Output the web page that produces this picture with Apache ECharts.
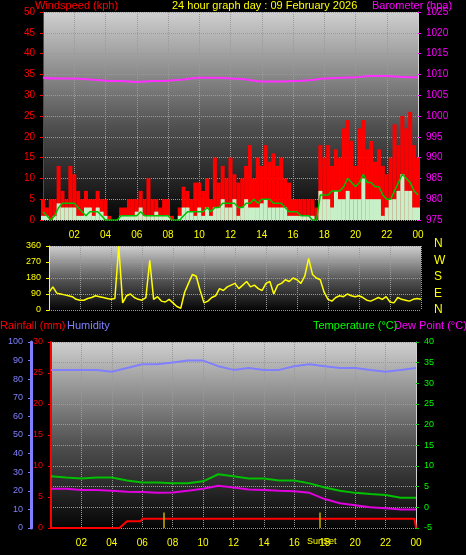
<!DOCTYPE html><html><head><meta charset="utf-8">
<script src="https://cdn.jsdelivr.net/npm/echarts@6/dist/echarts.min.js"></script>
<style>html,body{margin:0;background:#000}#c{width:466px;height:555px}</style></head><body><div id="c"></div>
<script>
const hourTicks=['02','04','06','08','10','12','14','16','18','20','22','00'];
const gust=[5,3,5,5,13,7,5,13,11,7,5,7,5,5,7,5,5,1,0,0,3,3,5,5,5,7,5,10,5,5,3,5,5,1,0,3,8,7,5,9,9,7,10,5,15,9,13,10,15,11,9,10,13,18,10,15,13,18,14,16,13,15,10,9,5,5,5,5,5,5,3,18,15,18,13,17,15,22,24,19,13,22,24,17,19,14,17,13,11,15,23,18,25,22,26,18,15];
const avgWind=[1,1,0,1,4,3,3,3,3,1,1,3,3,1,3,2,1,0,0,0,1,1,1,1,2,3,1,1,1,2,1,1,1,0,0,1,3,3,2,1,3,1,3,1,3,3,5,3,3,5,1,3,5,3,3,3,4,5,3,3,3,3,3,1,1,1,1,1,1,1,0,7,5,5,3,7,5,5,7,5,5,5,10,5,5,5,5,1,3,5,5,7,11,7,7,3,3];
const avg10=[2,1,0,1,3,4,4,4,4,3,2,1,2,2,2,1,0,0,0,0,1,1,1,1,1,2,1,1,1,1,1,1,1,0,0,0,1,2,2,2,2,2,3,2,3,3,4,4,4,4,3,3,4,4,5,4,5,5,5,4,4,4,3,2,2,2,1,1,1,0,0,6,6,6,7,7,7,8,10,9,8,9,11,9,9,8,8,6,5,5,7,9,11,10,9,7,6];
const baro=[1009.2,1009,1009,1008.8,1008.5,1008.4,1008.2,1008.4,1008.5,1008.8,1009.2,1009.2,1009,1008.8,1008.3,1008.3,1008.4,1008.6,1009,1009.2,1009.3,1009.6,1009.6,1009.4,1009.3];
const windDir=[100,130,95,90,85,80,75,60,55,55,65,70,80,75,70,65,60,65,360,40,80,90,70,60,55,70,280,60,75,50,45,60,40,20,10,100,150,200,190,110,40,50,70,80,120,110,130,140,150,120,140,160,130,140,120,110,150,160,90,140,150,170,160,180,170,150,190,290,200,180,170,100,60,50,70,80,75,90,80,75,80,70,55,50,60,70,60,75,45,40,70,60,55,50,60,65,60];
const humidity=[85,85,85,85,84,86,88,88,89,90,90,87,85,86,85,85,87,88,87,86,86,85,84,85,86];
const temperature=[7.5,7.2,7,7.2,7.2,6.5,6,6,5.8,5.8,6.3,8,7.5,7,7,6.5,6.5,5.8,4.8,4,3.5,3.2,3,2.3,2.3];
const dewPoint=[4.5,4.5,4.2,4.2,4.0,3.8,3.7,3.5,3.6,4,4.5,5.2,4.8,4.3,4.2,4,3.9,3.5,2,1,0.5,0,-0.2,-0.5,-0.5];
const rainHours=[0,4.5,5,5.9,6,23.9,24];
const rainValues=[0,0,1.1,1.1,1.5,1.5,0];
const sunTimes=[7.4,17.7];

const q=a=>a.map((v,i)=>[i*0.25,v]);
const h=a=>a.map((v,i)=>[i,v]);
const bg={type:'linear',x:0,y:0,x2:0,y2:1,colorStops:[{offset:0,color:'#cfcfcf'},{offset:0.55,color:'#505050'},{offset:1,color:'#050505'}]};
const split={show:true,lineStyle:{color:'#9a9a9a',type:'dotted',width:1}};
const font={fontFamily:'Liberation Sans, Arial',fontSize:10};
function xAx(i,show){return {type:'value',gridIndex:i,min:0,max:24,interval:2,
 axisLine:{show:false},axisTick:{show:false},splitLine:split,
 axisLabel:{show:show,color:'#ffff00',...font,margin:10,formatter:v=>v===0?'':hourTicks[v/2-1]}};}
function yAx(i,o){return Object.assign({type:'value',gridIndex:i,splitLine:{show:false},
 axisTick:{show:true,length:3,inside:false},minorTick:{show:false}},o);}
const opt={backgroundColor:'#000',animation:false,
grid:[
 {left:43,right:48,top:12,height:208,show:true,backgroundColor:bg,borderWidth:0},
 {left:49,right:45,top:246,height:64,show:true,backgroundColor:bg,borderWidth:0},
 {left:51,right:50,top:342,height:186,show:true,backgroundColor:bg,borderWidth:0}],
xAxis:[xAx(0,true),xAx(1,false),xAx(2,true)],
yAxis:[
 yAx(0,{min:0,max:50,interval:5,axisLine:{show:true,lineStyle:{color:'#ff0000'}},axisLabel:{color:'#ff0000',...font},splitLine:split}),
 yAx(0,{min:975,max:1025,interval:5,position:'right',axisLine:{show:true,lineStyle:{color:'#d0d0d0'}},axisTick:{lineStyle:{color:'#ff00ff'},length:3},axisLabel:{color:'#ff00ff',...font,formatter:v=>String(v)}}),
 yAx(1,{min:0,max:360,interval:90,axisLine:{show:true,lineStyle:{color:'#ffff00'}},axisLabel:{color:'#ffff00',...font,fontSize:9},splitLine:split}),
 yAx(2,{min:0,max:30,interval:5,position:'left',axisLine:{show:true,lineStyle:{color:'#ff0000',width:2}},axisLabel:{color:'#ff0000',...font,fontSize:9}}),
 yAx(2,{min:0,max:100,interval:10,position:'left',offset:20,axisLine:{show:true,lineStyle:{color:'#8080ff',width:3}},axisLabel:{color:'#8080ff',...font,fontSize:9}}),
 yAx(2,{min:-5,max:40,interval:5,position:'right',axisLine:{show:true,lineStyle:{color:'#d0d0d0'}},axisTick:{lineStyle:{color:'#00c000'},length:3},axisLabel:{color:'#00ff00',...font,fontSize:9},splitLine:split})],
series:[
 {type:'bar',xAxisIndex:0,yAxisIndex:0,data:q(gust),barWidth:4,barGap:'-100%',itemStyle:{color:'#ff0000'}},
 {type:'bar',xAxisIndex:0,yAxisIndex:0,data:q(avgWind),barWidth:4,itemStyle:{color:'#c8f0c8'}},
 {type:'line',xAxisIndex:0,yAxisIndex:0,data:q(avg10),showSymbol:false,lineStyle:{color:'#00c000',width:1.5}},
 {type:'line',xAxisIndex:0,yAxisIndex:1,data:h(baro),showSymbol:false,smooth:true,lineStyle:{color:'#ff30ff',width:2}},
 {type:'line',xAxisIndex:1,yAxisIndex:2,data:q(windDir),showSymbol:false,lineStyle:{color:'#ffff00',width:1.5}},
 {type:'line',xAxisIndex:2,yAxisIndex:4,data:h(humidity),showSymbol:false,lineStyle:{color:'#8080ff',width:2}},
 {type:'line',xAxisIndex:2,yAxisIndex:5,data:h(temperature),showSymbol:false,lineStyle:{color:'#00c000',width:2}},
 {type:'line',xAxisIndex:2,yAxisIndex:5,data:h(dewPoint),showSymbol:false,lineStyle:{color:'#e000e0',width:2}},
 {type:'line',xAxisIndex:2,yAxisIndex:3,data:rainHours.map((x,i)=>[x,rainValues[i]]),showSymbol:false,lineStyle:{color:'#ff0000',width:2},
  markLine:{symbol:'none',silent:true,label:{show:false},lineStyle:{color:'#c0b000',type:'solid',width:1.5},data:sunTimes.map(t=>[{coord:[t,0]},{coord:[t,2.5]}])}}
],
graphic:[
 {type:'text',left:35,top:0,style:{text:'Windspeed (kph)',fill:'#ff0000',font:'11px Liberation Sans'}},
 {type:'text',left:172,top:0,style:{text:'24 hour graph day : 09 February 2026',fill:'#ffff00',font:'11px Liberation Sans'}},
 {type:'text',left:372,top:0,style:{text:'Barometer (hpa)',fill:'#ff00ff',font:'11px Liberation Sans'}},
 {type:'text',left:0,top:320,style:{text:'Rainfall (mm)',fill:'#ff0000',font:'11px Liberation Sans'}},
 {type:'text',left:67,top:320,style:{text:'Humidity',fill:'#8080ff',font:'11px Liberation Sans'}},
 {type:'text',left:313,top:320,style:{text:'Temperature (°C)',fill:'#00ff00',font:'11px Liberation Sans'}},
 {type:'text',left:394,top:320,style:{text:'Dew Point (°C)',fill:'#ff00ff',font:'11px Liberation Sans'}},
 {type:'text',left:307,top:537,style:{text:'SunSet',fill:'#ffff00',font:'9px Liberation Sans'}},
 ...['N','W','S','E','N'].map((s,i)=>({type:'text',left:434,top:238+i*16.5,style:{text:s,fill:'#ffff00',font:'12px Liberation Sans'}}))
]};
echarts.init(document.getElementById('c')).setOption(opt);
</script></body></html>
